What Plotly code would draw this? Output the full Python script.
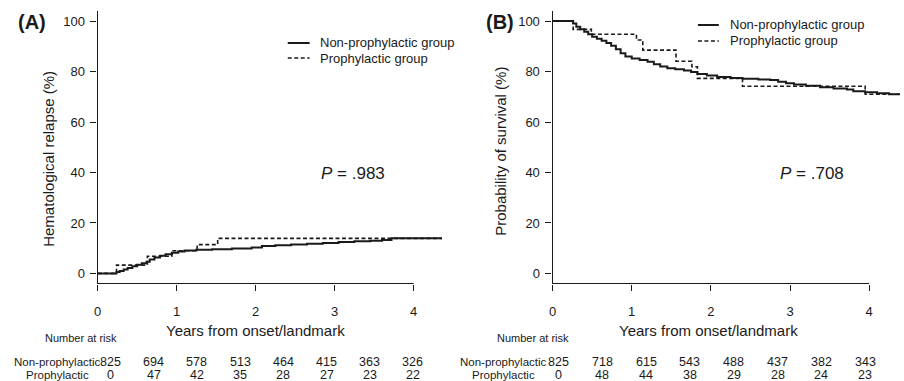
import plotly.graph_objects as go

W, H = 904, 381

# ---------------- data ----------------
# Panel A: cumulative incidence of hematological relapse (%)
a_non_t = [0, 0.24, 0.28, 0.33, 0.38, 0.44, 0.50, 0.56, 0.62, 0.66, 0.72, 0.79, 0.86, 0.94, 1.02, 1.10,
           1.25, 1.45, 1.70, 1.95, 2.08, 2.25, 2.45, 2.65, 2.85, 3.05, 3.25, 3.45, 3.60, 3.72, 4.36]
a_non_v = [0, 0.6, 1.0, 1.5, 2.1, 2.8, 3.4, 4.0, 4.6, 5.5, 6.3, 7.0, 7.6, 8.2, 8.7, 9.1,
           9.4, 9.6, 9.9, 10.3, 10.9, 11.2, 11.5, 11.8, 12.1, 12.4, 12.7, 12.9, 13.2, 13.9, 13.9]
a_pro_t = [0, 0.24, 0.63, 0.94, 1.26, 1.52, 4.36]
a_pro_v = [0, 3.3, 6.8, 9.0, 11.4, 13.9, 13.9]

# Panel B: probability of survival (%)
b_non_t = [0, 0.26, 0.30, 0.35, 0.40, 0.45, 0.50, 0.56, 0.62, 0.68, 0.74, 0.80, 0.86, 0.92, 1.00, 1.10,
           1.20, 1.28, 1.36, 1.45, 1.55, 1.66, 1.75, 1.83, 1.95, 2.08, 2.25, 2.40, 2.60, 2.75, 2.85,
           2.95, 3.05, 3.20, 3.38, 3.55, 3.72, 3.80, 3.95, 4.10, 4.25, 4.40]
b_non_v = [100, 99.0, 97.8, 96.8, 95.8, 94.8, 93.8, 93.0, 92.2, 91.3, 90.2, 88.8, 87.3, 86.0, 85.2, 84.6,
           83.9, 82.9, 82.0, 81.3, 80.9, 80.4, 79.8, 79.0, 78.4, 77.8, 77.4, 77.1, 76.9, 76.7, 76.0,
           75.4, 74.9, 74.4, 73.8, 73.3, 72.9, 72.2, 71.8, 71.4, 71.0, 70.6]
b_pro_t = [0, 0.26, 0.49, 1.06, 1.14, 1.56, 1.76, 1.83, 2.40, 3.95, 4.40]
b_pro_v = [100, 96.7, 94.8, 92.5, 88.5, 84.1, 81.9, 77.3, 74.2, 71.0, 71.0]

x_ticks = [0, 1, 2, 3, 4]
y_ticks = [0, 20, 40, 60, 80, 100]

risk_a_non = [825, 694, 578, 513, 464, 415, 363, 326]
risk_a_pro = [0, 47, 42, 35, 28, 27, 23, 22]
risk_b_non = [825, 718, 615, 543, 488, 437, 382, 343]
risk_b_pro = [0, 48, 44, 38, 29, 28, 24, 23]

series_names = ["Non-prophylactic group", "Prophylactic group"]
row_labels = ["Non-prophylactic", "Prophylactic"]

FONT = "Liberation Sans, Arial, sans-serif"
INK = "#1a1a1a"


def px(x):
    return x / W


def py(y):
    return 1 - y / H


fig = go.Figure()

solid = dict(color=INK, width=2, shape="hv")
dashed = dict(color=INK, width=1.6, shape="hv", dash="4px,2.5px")

fig.add_trace(go.Scatter(x=a_non_t, y=a_non_v, mode="lines", line=solid, name=series_names[0],
                         xaxis="x", yaxis="y"))
fig.add_trace(go.Scatter(x=a_pro_t, y=a_pro_v, mode="lines", line=dashed, name=series_names[1],
                         xaxis="x", yaxis="y"))
fig.add_trace(go.Scatter(x=b_non_t, y=b_non_v, mode="lines", line=solid, name=series_names[0],
                         xaxis="x2", yaxis="y2"))
fig.add_trace(go.Scatter(x=b_pro_t, y=b_pro_v, mode="lines", line=dashed, name=series_names[1],
                         xaxis="x2", yaxis="y2"))

ydom = [py(283.5), py(11)]
xaxis_common = dict(tickvals=x_ticks, ticks="outside", ticklen=6, tickwidth=1.2, tickcolor=INK,
                    showline=False, showgrid=False, zeroline=False, ticklabelstandoff=10,
                    tickfont=dict(family=FONT, size=13, color=INK))
yaxis_common = dict(range=[-4, 104], tickvals=y_ticks, ticks="outside", ticklen=6, tickwidth=1.2,
                    tickcolor=INK, showline=True, linecolor=INK, linewidth=1.2,
                    showgrid=False, zeroline=False, ticklabelstandoff=3,
                    tickfont=dict(family=FONT, size=13, color=INK))

fig.update_layout(
    width=W, height=H,
    margin=dict(l=0, r=0, t=0, b=0),
    paper_bgcolor="white", plot_bgcolor="white",
    font=dict(family=FONT, color=INK),
    xaxis=dict(domain=[px(94), px(440)], range=[0, 4.36], anchor="y", **xaxis_common),
    yaxis=dict(domain=ydom, anchor="x", **yaxis_common),
    xaxis2=dict(domain=[px(551), px(900)], range=[0, 4.39], anchor="y2", **xaxis_common),
    yaxis2=dict(domain=ydom, anchor="x2", **yaxis_common),
    showlegend=False,
)

# x axis lines spanning the tick range only (R style)
for xr in ["x", "x2"]:
    fig.add_shape(type="line", xref=xr, yref="y domain" if xr == "x" else "y2 domain",
                  x0=x_ticks[0], x1=x_ticks[-1], y0=0, y1=0,
                  line=dict(color=INK, width=1.2))

ann = []
# legends (drawn as key lines + labels)
for (lx0, lx1, tx, ys) in [(285, 307, 315, (43, 58)), (697, 718, 727, (25, 41))]:
    for k, (yy, name) in enumerate(zip(ys, series_names)):
        sty = dict(color=INK, width=2) if k == 0 else dict(color=INK, width=1.6, dash="4px,2.5px")
        fig.add_shape(type="line", xref="paper", yref="paper", x0=px(lx0), x1=px(lx1),
                      y0=py(yy), y1=py(yy), line=sty)
        ann.append(dict(text=name, x=px(tx), y=py(yy), font=dict(size=13), xanchor="left"))

# panel letters
ann.append(dict(text="<b>(A)</b>", x=px(28), y=py(22), font=dict(size=20)))
ann.append(dict(text="<b>(B)</b>", x=px(498), y=py(22), font=dict(size=20)))
# y-axis titles
ann.append(dict(text="Hematological relapse (%)", x=px(45), y=py(159), textangle=-90, font=dict(size=15)))
ann.append(dict(text="Probability of survival (%)", x=px(498), y=py(151), textangle=-90, font=dict(size=15)))
# x-axis titles
ann.append(dict(text="Years from onset/landmark", x=px(253), y=py(330), font=dict(size=15)))
ann.append(dict(text="Years from onset/landmark", x=px(708), y=py(330), font=dict(size=15)))
# P values
ann.append(dict(text="<i>P</i> = .983", x=px(351), y=py(173), font=dict(size=17)))
ann.append(dict(text="<i>P</i> = .708", x=px(812), y=py(173), font=dict(size=17)))
# number at risk headers
ann.append(dict(text="Number at risk", x=px(77), y=py(338), font=dict(size=11)))
ann.append(dict(text="Number at risk", x=px(531), y=py(338), font=dict(size=11)))
# row labels
for cx in [54, 502]:
    ann.append(dict(text=row_labels[0], x=px(cx), y=py(362), font=dict(size=11.5)))
    ann.append(dict(text=row_labels[1], x=px(cx), y=py(375), font=dict(size=11.5)))

# risk numbers
for start, step, non, pro in [(107, 43.4, risk_a_non, risk_a_pro), (557, 44.0, risk_b_non, risk_b_pro)]:
    for i, (n, p) in enumerate(zip(non, pro)):
        ann.append(dict(text=str(n), x=px(start + i * step), y=py(362), font=dict(size=12.5)))
        ann.append(dict(text=str(p), x=px(start + i * step), y=py(375), font=dict(size=12.5)))

for a in ann:
    a.setdefault("xanchor", "center")
    a.update(xref="paper", yref="paper", showarrow=False, yanchor="middle")
    a["font"] = dict(family=FONT, color=INK, **a["font"])
    fig.add_annotation(**a)

fig.write_html("out.html", config={"displayModeBar": False},
               post_script="document.body.style.margin='0';document.body.style.overflow='hidden';")
